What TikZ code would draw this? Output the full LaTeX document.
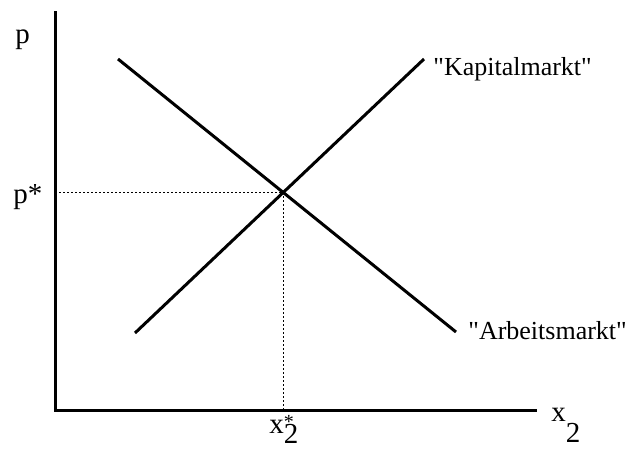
\documentclass[tikz,border=0pt]{standalone}
\usepackage{fontspec}
\setmainfont{Liberation Serif}
\usepackage{tikz}
\usetikzlibrary{calc, positioning}

\begin{document}
\begin{tikzpicture}[x=.5pt, y=-.5pt,
    axis/.style={line width=1.5pt},
    curve/.style={line width=1.5pt},
    guide/.style={line width=.5pt, dash pattern=on 1pt off 1pt},
    lbl/.style={inner sep=0pt, font=\fontsize{13}{15}\selectfont},
    axlbl/.style={inner sep=0pt, font=\fontsize{14.5}{17}\selectfont}]
        \useasboundingbox (0,0) rectangle (630,450);
        % axes
        \coordinate (O) at (55,410);
        \coordinate (ytop) at (55,11);
        \coordinate (xend) at (537,410);
        \draw[axis] (ytop) -- (O) -- (xend);
        % the two markets
        \coordinate (A1) at (118,59);
        \coordinate (A2) at (456,332);
        \coordinate (K1) at (135,333);
        \coordinate (K2) at (424,59);
        \draw[curve] (A1) -- (A2);
        \draw[curve] (K1) -- (K2);
        \coordinate (E) at (intersection of A1--A2 and K1--K2);
        \coordinate (Ey) at (O |- E);
        \coordinate (Ex) at (E |- O);
        \draw[guide] (Ey) -- (E) -- (Ex);
        % labels
        \node[axlbl, anchor=base west] (p) at (15,43) {p};
        \node[axlbl, anchor=base west] (pstar) at (13,203) {p*};
        \node[axlbl, anchor=base west] (xstar) at (269,433)
          {x\rlap{\raisebox{2.5pt}{\fontsize{10}{12}\selectfont *}}\raisebox{-5pt}{2}};
        \node[axlbl, anchor=base west] (xtwo) at (551,421) {x\raisebox{-10.5pt}{2}};
        \node[lbl, anchor=base west] (kap) at (433,75) {\textquotedbl Kapitalmarkt\textquotedbl};
        \node[lbl, anchor=base west] (arb) at (468,339) {\textquotedbl Arbeitsmarkt\textquotedbl};
\end{tikzpicture}
\end{document}
